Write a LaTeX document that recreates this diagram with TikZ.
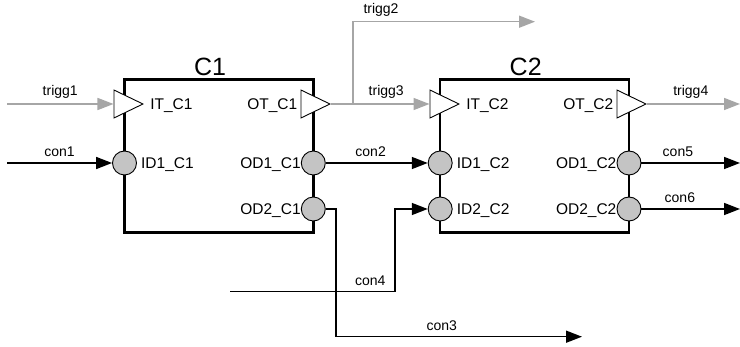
\documentclass[tikz,border=0pt]{standalone}
\usepackage{fontspec}
\setmainfont{Liberation Sans}
\usepackage{xcolor}
\definecolor{linegray}{HTML}{A6A6A6}
\definecolor{portgray}{HTML}{C4C4C4}
\usepackage{tikz}
\usetikzlibrary{shapes.geometric,arrows.meta,positioning}

\begin{document}
\begin{tikzpicture}[x=1pt, y=-1pt,
      box/.style={draw, line width=2.1pt, minimum width=189pt, minimum height=153pt, inner sep=0},
      hd/.style={font=\fontsize{25}{28}\selectfont, inner sep=0},
      trig/.style={draw, isosceles triangle, isosceles triangle stretches, fill=white, line width=0.9pt, minimum width=28pt, minimum height=29pt, inner sep=0, anchor=west},
      dat/.style={draw, circle, fill=portgray, line width=0.9pt, minimum size=24pt, inner sep=0},
      plab/.style={font=\fontsize{15.5}{18}\selectfont, inner sep=0, text height=11pt, text depth=0pt},
      arr/.style={-{Triangle[length=16pt,width=12pt]}, line width=1.6pt},
      garr/.style={arr, draw=linegray},
      lab/.style={above, font=\fontsize{14}{16}\selectfont, text height=10pt, text depth=3pt, inner sep=2.5pt},
      glab/.style={lab, yshift=2pt}
    ]
    \useasboundingbox (0,0) rectangle (740,347);
    \node[box] (c1) at (219,156) {};
    \node[box] (c2) at (534.7,156) {};
    \node[hd, above=3pt of c1, xshift=-9pt] (c1t) {C1};
    \node[hd, above=3pt of c2, xshift=-9pt] (c2t) {C2};
    \node[trig, label={[plab,label distance=6pt]right:IT\_C1}] (c1it) at (113.5,104) {};
    \node[trig, label={[plab,label distance=3pt]left:OT\_C1}] (c1ot) at (300.5,104) {};
    \node[dat, label={[plab,label distance=4pt]right:ID1\_C1}] (c1id1) at (124.5,163) {};
    \node[dat, label={[plab,label distance=0pt]left:OD1\_C1}] (c1od1) at (313.3,163) {};
    \node[dat, label={[plab,label distance=0pt]left:OD2\_C1}] (c1od2) at (313.3,209) {};
    \node[trig, label={[plab,label distance=6pt]right:IT\_C2}] (c2it) at (429.5,104) {};
    \node[trig, label={[plab,label distance=3pt]left:OT\_C2}] (c2ot) at (616.5,104) {};
    \node[dat, label={[plab,label distance=4pt]right:ID1\_C2}] (c2id1) at (440.2,163) {};
    \node[dat, label={[plab,label distance=4pt]right:ID2\_C2}] (c2id2) at (440.2,209) {};
    \node[dat, label={[plab,label distance=0pt]left:OD1\_C2}] (c2od1) at (629,163) {};
    \node[dat, label={[plab,label distance=0pt]left:OD2\_C2}] (c2od2) at (629,209) {};
    \coordinate (t1s) at (7,104);
    \coordinate (t2b) at (353,104);
    \coordinate (t2e) at (535,21.7);
    \coordinate (t4e) at (740,104);
    \coordinate (n1s) at (7,163);
    \coordinate (n3k) at (336,336.7);
    \coordinate (n3e) at (582,336.7);
    \coordinate (n4s) at (230,291.7);
    \coordinate (n4k) at (395,209);
    \coordinate (n5e) at (740,163);
    \coordinate (n6e) at (740,209);
    \draw[garr] (t1s) -- node[glab] {trigg1} (c1it);
    \draw[garr] (c1ot) -- node[glab, pos=0.56] {trigg3} (c2it);
    \draw[garr] (t2b) |- node[glab, pos=0.577] {trigg2} (t2e);
    \draw[garr] (c2ot) -- node[glab, pos=0.47] {trigg4} (t4e);
    \draw[arr] (n1s) -- node[lab] {con1} (c1id1);
    \draw[arr] (c1od1) -- node[lab, pos=0.44] {con2} (c2id1);
    \draw[arr] (c1od2) -| (n3k) -- node[lab, pos=0.43] {con3} (n3e);
    \draw[arr] (n4s) -| node[lab, pos=0.425] {con4} (n4k) -- (c2id2);
    \draw[arr] (c2od1) -- node[lab, pos=0.37] {con5} (n5e);
    \draw[arr] (c2od2) -- node[lab, pos=0.39] {con6} (n6e);
  \end{tikzpicture}
\end{document}
